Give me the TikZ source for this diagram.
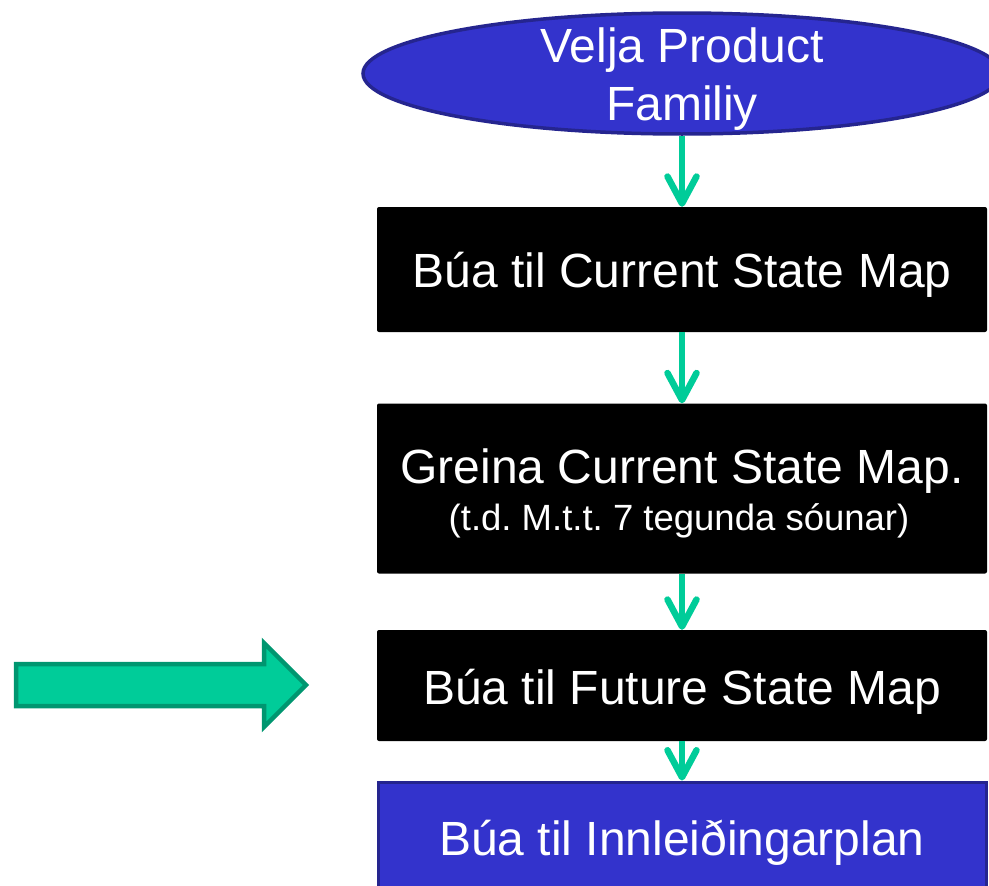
\documentclass[tikz,border=0pt]{standalone}
\usepackage{fontspec}
\setmainfont{Liberation Sans}
\usetikzlibrary{shapes.geometric,arrows.meta}
\definecolor{vblue}{HTML}{3333CC}
\definecolor{vblueb}{HTML}{25258F}
\definecolor{vgreen}{HTML}{00CC99}
\definecolor{vgreenb}{HTML}{009670}
\frenchspacing
\tikzset{
  blackbox/.style={rectangle, fill=black, rounded corners=2pt, minimum width=610pt, inner sep=0pt},
  bluebox/.style={rectangle, fill=vblue, draw=vblueb, line width=3pt, minimum width=608pt, inner sep=0pt},
  startoval/.style={ellipse, fill=vblue, draw=vblueb, line width=3.5pt, minimum width=638pt, minimum height=121pt, inner sep=0pt},
  bigtxt/.style={text=white, anchor=base, inner sep=0pt, font=\fontsize{48}{56}\selectfont},
  smalltxt/.style={text=white, anchor=base, inner sep=0pt, font=\fontsize{36.5}{40}\selectfont},
  flowarrow/.style={draw=vgreen, line width=6.5pt, -{Straight Barb[length=27pt, width=29pt, line width=6.5pt, round]}},
  bigarrow/.style={fill=vgreen, draw=vgreenb, line width=4.5pt, line join=miter}
}
\begin{document}
\begin{tikzpicture}[x=1pt,y=-1pt]
\clip (0,0) rectangle (989,886);
\useasboundingbox (0,0) rectangle (989,886);

% shapes
\node[startoval] (start) at (682,73.5) {};
\node[blackbox, minimum height=125pt] (b1) at (682,269.5) {};
\node[blackbox, minimum height=170pt] (b2) at (682,488.5) {};
\node[blackbox, minimum height=111pt] (b3) at (682,685.5) {};
\node[bluebox, minimum height=120pt] (b4) at (682,842) {};

% texts
\node[bigtxt] (t0a) at (682,62) {Velja Product};
\node[bigtxt] (t0b) at (682,120) {Familiy};
\node[bigtxt] (t1) at (682,287) {Búa til Current State Map};
\node[bigtxt] (t2a) at (682,483) {Greina Current State Map.};
\node[smalltxt] (t2b) at (679,530) {(t.d. M.t.t. 7 tegunda sóunar)};
\node[bigtxt] (t3) at (682,704) {Búa til Future State Map};
\node[bigtxt] (t4) at (682,855) {Búa til Innleiðingarplan};

% connectors
\draw[flowarrow] (start.south) -- (b1.north);
\draw[flowarrow] (b1.south) -- (b2.north);
\draw[flowarrow] (b2.south) -- (b3.north);
\draw[flowarrow] (b3.south) -- (b4.north);

% big side arrow
\draw[bigarrow] (16,664) -- (264,664) -- (264,643) -- (306,685) -- (264,727) -- (264,706) -- (16,706) -- cycle;
\end{tikzpicture}
\end{document}
